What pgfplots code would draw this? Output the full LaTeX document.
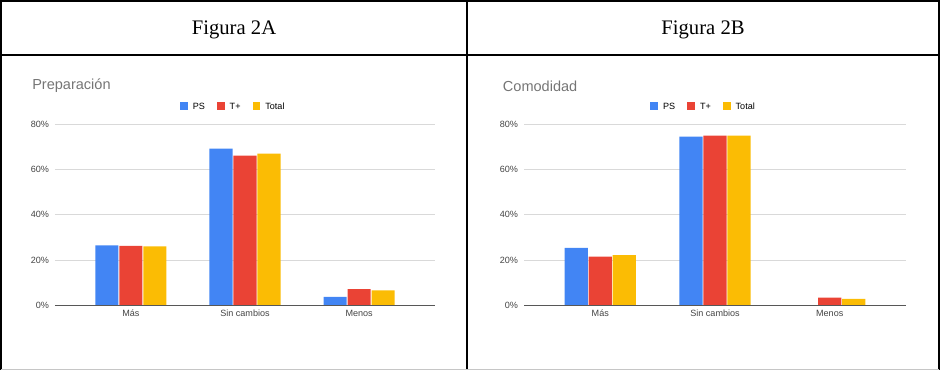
\documentclass[border=0pt]{standalone}
\usepackage{fontspec}
\setmainfont{Liberation Sans}
\newfontfamily\headfont{Liberation Serif}
\usepackage{pgfplots}
\pgfplotsset{compat=1.18}
\definecolor{gblue}{HTML}{4285F4}
\definecolor{gred}{HTML}{EA4335}
\definecolor{gyellow}{HTML}{FBBC04}
\definecolor{ggrid}{HTML}{D9D9D9}
\definecolor{glabel}{HTML}{444444}
\definecolor{gtitle}{HTML}{757575}
\pgfplotsset{gchart/.style={
  scale only axis, width=285pt, height=136pt, anchor=south west,
  ymin=0, ymax=80, xmin=-0.665, xmax=2.665,
  ybar=0.6pt, bar width=17.4pt,
  axis line style={draw=none},
  ytick={0,20,40,60,80}, ymajorgrids, grid style={ggrid, line width=0.6pt},
  major tick length=0pt,
  xtick={0,1,2}, xticklabels={Más, Sin cambios, Menos},
  ticklabel style={font=\fontsize{6.8}{8}\selectfont, text=glabel},
  xticklabel style={text height=5pt, text depth=1.5pt},
  yticklabel={\pgfmathprintnumber{\tick}\%},
  yticklabel style={xshift=-1pt},
  /pgf/number format/assume math mode=true,
  legend columns=-1,
  legend style={draw=none, fill=none, font=\fontsize{6.8}{8}\selectfont, anchor=center,
    nodes={text height=5pt, text depth=1.5pt, anchor=base west},
    /tikz/every odd column/.style={column sep=1.8pt},
    /tikz/every even column/.style={column sep=7pt}},
  legend image code/.code={\fill[#1,draw=none] (0pt,-0.4pt) rectangle (5.8pt,5.4pt);},
}}
\begin{document}
\begin{tikzpicture}[x=0.75pt,y=0.75pt]
\useasboundingbox (0,0) rectangle (940,370);
% frame
\draw[line width=1.5pt] (1,0) -- (1,369) -- (939,369) -- (939,0);
\draw[line width=1.5pt] (467,0) -- (467,369);
\draw[line width=1.5pt] (1,315) -- (939,315);
\draw[gray!45, line width=0.75pt] (1,0.5) -- (939,0.5);
\node[font=\headfont\fontsize{15.5}{18}\selectfont, anchor=base] at (234,335) {Figura 2A};
\node[font=\headfont\fontsize{15.5}{18}\selectfont, anchor=base] at (703,335) {Figura 2B};
\node[font=\fontsize{10.9}{12}\selectfont, text=gtitle, anchor=west, inner sep=0pt] at (32,284) {Preparación};
\node[font=\fontsize{10.9}{12}\selectfont, text=gtitle, anchor=west, inner sep=0pt] at (502.7,284) {Comodidad};

\begin{axis}[gchart, at={(41.25pt,48.5pt)}, width=285pt,
  legend style={at={(0.47,1.095)}}]
\addplot[fill=gblue, draw=none] coordinates {(0,26.5) (1,69.1) (2,3.7)};
\addplot[fill=gred, draw=none] coordinates {(0,26.2) (1,66.0) (2,7.2)};
\addplot[fill=gyellow, draw=none] coordinates {(0,26.0) (1,66.9) (2,6.6)};
\legend{PS, T+, Total}
\draw[glabel!90, line width=0.6pt] (axis cs:-0.665,0) -- (axis cs:2.665,0);
\end{axis}

\begin{axis}[gchart, at={(393pt,48.5pt)}, width=286.5pt,
  legend style={at={(0.471,1.095)}}]
\addplot[fill=gblue, draw=none] coordinates {(0,25.3) (1,74.4)};
\addplot[fill=gred, draw=none] coordinates {(0,21.5) (1,74.9) (2,3.4)};
\addplot[fill=gyellow, draw=none] coordinates {(0,22.2) (1,74.9) (2,2.8)};
\legend{PS, T+, Total}
\draw[glabel!90, line width=0.6pt] (axis cs:-0.665,0) -- (axis cs:2.665,0);
\end{axis}
\end{tikzpicture}
\end{document}
